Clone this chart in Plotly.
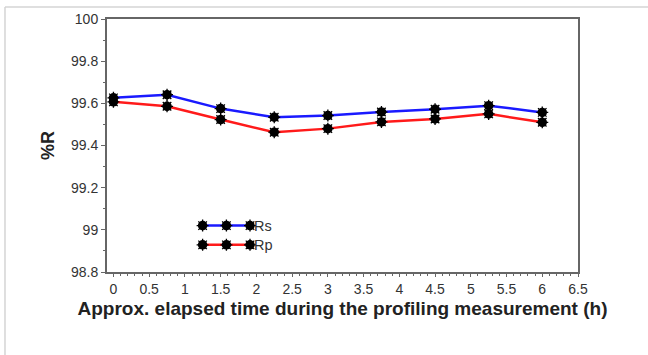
import plotly.graph_objects as go

# Data
time_h = [0, 0.75, 1.5, 2.25, 3, 3.75, 4.5, 5.25, 6]
rs = [99.626, 99.641, 99.575, 99.534, 99.542, 99.559, 99.572, 99.589, 99.557]
rp = [99.607, 99.586, 99.523, 99.463, 99.480, 99.512, 99.526, 99.550, 99.510]
series_names = ["Rs", "Rp"]
series_colors = ["#1a1aff", "#ff1a1a"]

# custom legend key positions (fractions of the plot area)
legend_x = [0.203, 0.2535, 0.3036]
legend_y = [0.1834, 0.1073]

fig = go.Figure()

def add_markers(x, y, **kw):
    fig.add_trace(go.Scatter(
        x=x, y=y, mode="markers", showlegend=False,
        marker=dict(symbol="asterisk-open", size=10, color="black",
                    line=dict(color="black", width=1.3)), **kw))

for name, vals, col in zip(series_names, [rs, rp], series_colors):
    fig.add_trace(go.Scatter(
        x=time_h, y=vals, mode="lines+markers", name=name,
        line=dict(color=col, width=2.5),
        marker=dict(symbol="circle", size=9.5, color="black"),
        showlegend=False))
    add_markers(time_h, vals)

# custom legend with three markers per key
for name, ly, col in zip(series_names, legend_y, series_colors):
    fig.add_trace(go.Scatter(
        x=legend_x, y=[ly] * 3, xaxis="x2", yaxis="y2",
        mode="lines+markers", showlegend=False,
        line=dict(color=col, width=2.5),
        marker=dict(symbol="circle", size=9.5, color="black")))
    add_markers(legend_x, [ly] * 3, xaxis="x2", yaxis="y2")
    fig.add_annotation(x=legend_x[-1] + 0.004, y=ly, xref="x2", yref="y2",
                       text=name, showarrow=False, xanchor="left",
                       font=dict(family="Liberation Sans, Arial", size=14.5, color="#333333"))

axis_font = dict(family="Liberation Sans, Arial", size=14, color="#333333")

fig.update_layout(
    width=648, height=355,
    margin=dict(l=107, r=70, t=19, b=82.5),
    paper_bgcolor="white", plot_bgcolor="white",
    xaxis=dict(
        range=[-0.09, 6.5], dtick=0.5, tick0=0,
        showgrid=False, zeroline=False,
        showline=True, linecolor="#666666", linewidth=2, mirror=True,
        ticks="outside", ticklen=3, tickcolor="#666666",
        minor=dict(dtick=0.1, ticks="outside", ticklen=2, tickcolor="#666666"),
        tickfont=axis_font,
        title=dict(text="<b>Approx. elapsed time during the profiling measurement (h)</b>",
                   font=dict(family="Liberation Sans, Arial", size=19, color="#222222"),
                   standoff=6),
    ),
    yaxis=dict(
        range=[98.8, 100], dtick=0.2, tick0=98.8,
        showgrid=False, zeroline=False,
        showline=True, linecolor="#666666", linewidth=2, mirror=True,
        ticks="outside", ticklen=4, tickcolor="#666666",
        minor=dict(dtick=0.1, ticks="outside", ticklen=2, tickcolor="#666666"),
        tickfont=axis_font,
        title=dict(text="<b>%R</b>",
                   font=dict(family="Liberation Sans, Arial", size=18, color="#222222"),
                   standoff=12),
    ),
    xaxis2=dict(range=[0, 1], overlaying="x", visible=False),
    yaxis2=dict(range=[0, 1], overlaying="y", visible=False),
    shapes=[
        dict(type="line", xref="paper", yref="paper", x0=-0.2166, x1=1.15, y0=1.047, y1=1.047,
             line=dict(color="#d4d4d4", width=1.5)),
        dict(type="line", xref="paper", yref="paper", x0=-0.2166, x1=-0.2166, y0=1.047, y1=-0.33,
             line=dict(color="#d4d4d4", width=1.5)),
    ],
)

fig.write_html("out.html", config={"displayModeBar": False},
               post_script="document.body.style.margin='0';")
